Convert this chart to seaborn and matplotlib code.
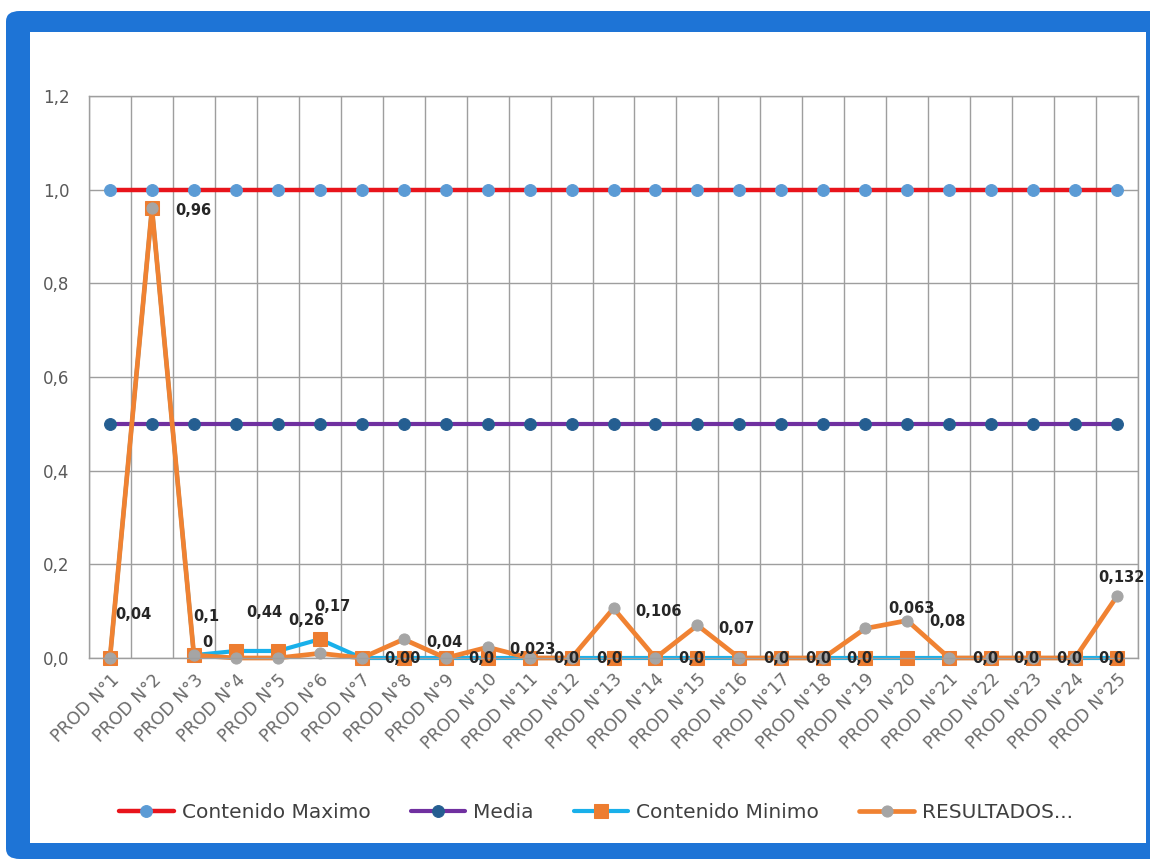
import numpy as np
import pandas as pd
import matplotlib
matplotlib.use("Agg")
from matplotlib import pyplot as plt
from matplotlib.patches import FancyBboxPatch, Rectangle
import seaborn as sns

# --- data -------------------------------------------------------------
products = [f"PROD N°{i}" for i in range(1, 26)]
contenido_maximo = [1.0] * 25
media = [0.5] * 25
contenido_minimo = [0.0, 0.96, 0.006, 0.015, 0.015, 0.04, 0.0, 0.0, 0.0, 0.0,
                    0.0, 0.0, 0.0, 0.0, 0.0, 0.0, 0.0, 0.0, 0.0, 0.0,
                    0.0, 0.0, 0.0, 0.0, 0.0]
resultados = [0.0, 0.96, 0.006, 0.0, 0.0, 0.01, 0.0, 0.04, 0.0, 0.023,
              0.0, 0.0, 0.106, 0.0, 0.07, 0.0, 0.0, 0.0, 0.063, 0.08,
              0.0, 0.0, 0.0, 0.0, 0.132]

# data labels as they sit in the original (category position, value height)
label_text = ["0,04", "0,96", "0,1", "0", "0,44", "0,26", "0,17", "0,00", "0,04",
              "0,0", "0,023", "0,0", "0,0", "0,106", "0,0", "0,07", "0,0", "0,0",
              "0,0", "0,063", "0,08", "0,0", "0,0", "0,0", "0,0", "0,132"]
label_x = [0.56, 1.98, 2.29, 2.32, 3.67, 4.67, 5.3, 6.96, 7.98,
           8.84, 10.08, 10.87, 11.89, 13.08, 13.85, 14.94, 15.87, 16.87,
           17.85, 19.09, 19.97, 20.85, 21.85, 22.86, 23.86, 24.1]
label_y = [0.092, 0.955, 0.088, 0.034, 0.098, 0.081, 0.109, -0.002, 0.034,
           -0.002, 0.019, -0.002, -0.002, 0.100, -0.002, 0.064, -0.002, -0.002,
           -0.002, 0.105, 0.077, -0.002, -0.002, -0.002, -0.002, 0.171]

df = pd.DataFrame({
    "pos": np.arange(len(products)),
    "producto": products,
    "Contenido Maximo": contenido_maximo,
    "Media": media,
    "Contenido Minimo": contenido_minimo,
    "RESULTADOS...": resultados,
})

sns.set_style("white")
plt.rcParams["font.family"] = ["DejaVu Sans"]

fig = plt.figure(figsize=(11.5, 8.59), dpi=100)
W, H = 1150, 859

# blue frame around the chart
fig.patches.append(FancyBboxPatch((6 / W, 0), (W - 6) / W + 0.05, (H - 11) / H,
                                  boxstyle="round,pad=0,rounding_size=0.012",
                                  transform=fig.transFigure, facecolor="#1e74d6",
                                  edgecolor="none", zorder=0))
fig.patches.append(Rectangle((30 / W, 16 / H), (1146 - 30) / W, (843 - 32) / H,
                             transform=fig.transFigure, facecolor="white",
                             edgecolor="none", zorder=1))

ax = fig.add_axes([89 / W, 1 - 658 / H, (1138 - 89) / W, (658 - 96) / H])
ax.set_zorder(2)

series = [
    ("Contenido Maximo", dict(color="#e8141b", lw=3.2, marker="o", ms=8.5,
                              mfc="#5b9bd5", mec="#5b9bd5")),
    ("Media", dict(color="#7030a0", lw=3.0, marker="o", ms=8.5,
                   mfc="#255e91", mec="#255e91")),
    ("Contenido Minimo", dict(color="#19b0ea", lw=3.0, marker="s", ms=10.5,
                              mfc="#ed7d31", mec="#ed7d31")),
    ("RESULTADOS...", dict(color="#f08232", lw=3.4, marker="o", ms=8,
                           mfc="#a5a5a5", mec="#a5a5a5")),
]
for name, st in series:
    sns.lineplot(data=df, x="pos", y=name, ax=ax, label=name, clip_on=False,
                 color=st["color"], linewidth=st["lw"], marker=st["marker"],
                 markersize=st["ms"], markerfacecolor=st["mfc"],
                 markeredgecolor=st["mec"])

for t, x, y in zip(label_text, label_x, label_y):
    ax.text(x, y, t, ha="center", va="center", fontsize=10.5, fontweight="bold",
            color="#262626", zorder=10, clip_on=False)

ax.set_xlim(-0.5, len(products) - 0.5)
ax.set_ylim(0, 1.2)
ax.set_yticks(np.arange(0, 1.21, 0.2))
ax.set_yticklabels([f"{v:.1f}".replace(".", ",") for v in np.arange(0, 1.21, 0.2)],
                   color="#595959", fontsize=12)
ax.set_xticks(df["pos"])
ax.set_xticklabels(products, rotation=45, ha="right", rotation_mode="anchor",
                   color="#6b6b6b", fontsize=12.5)
ax.set_xticks(np.arange(-0.5, len(products)), minor=True)
ax.tick_params(axis="both", which="both", length=0)
ax.tick_params(axis="x", pad=9)
ax.tick_params(axis="y", pad=14)
ax.grid(True, axis="y", which="major", color="#9e9e9e", lw=1)
ax.grid(True, axis="x", which="minor", color="#9e9e9e", lw=1)
ax.grid(False, axis="x", which="major")
ax.set_axisbelow(True)
for s in ax.spines.values():
    s.set_color("#9e9e9e")
    s.set_linewidth(1)
ax.set_xlabel("")
ax.set_ylabel("")

handles, labels = ax.get_legend_handles_labels()
ax.get_legend().remove()
fig.legend(handles, labels, loc="center", bbox_to_anchor=(596 / W, 1 - 813 / H),
           ncol=4, frameon=False, fontsize=14.5, handlelength=2.7,
           columnspacing=2.0, handletextpad=0.4, labelcolor="#404040")

fig.savefig("out.png", dpi=100)
